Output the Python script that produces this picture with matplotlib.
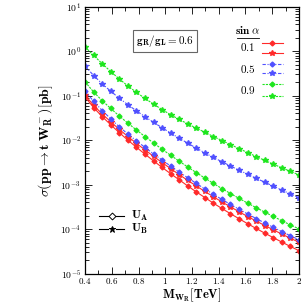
import matplotlib
matplotlib.use("Agg")
import matplotlib.pyplot as plt

plt.rcParams['mathtext.fontset'] = 'cm'
plt.rcParams['font.family'] = 'serif'
plt.rcParams['font.serif'] = ['DejaVu Serif']

# W_R mass [TeV]
mass = [0.4, 0.464, 0.528, 0.592, 0.656, 0.72, 0.784, 0.848, 0.912, 0.976,
        1.04, 1.104, 1.168, 1.232, 1.296, 1.36, 1.424, 1.488, 1.552, 1.616,
        1.68, 1.744, 1.808, 1.872, 1.936, 2.0]

# cross sections [pb], sin(alpha) = 0.1 / 0.5 / 0.9, models U_A and U_B
red_UA = [0.0935, 0.054, 0.0339, 0.0222, 0.01476, 0.01005, 0.00695, 0.00486, 0.00344, 0.00245,
          0.00177, 0.00129, 9.38e-4, 6.90e-4, 5.15e-4, 3.85e-4, 2.92e-4, 2.23e-4, 1.72e-4, 1.33e-4,
          1.04e-4, 8.17e-5, 6.47e-5, 5.14e-5, 4.10e-5, 3.30e-5]
red_UB = [0.103, 0.0606, 0.0388, 0.0259, 0.0175, 0.0121, 0.00852, 0.00606, 0.00434, 0.00315,
          0.0023, 0.00169, 0.00125, 9.37e-4, 7.06e-4, 5.36e-4, 4.10e-4, 3.18e-4, 2.47e-4, 1.93e-4,
          1.53e-4, 1.21e-4, 9.72e-5, 7.77e-5, 6.26e-5, 5.11e-5]
blue_UA = [0.129, 0.0744, 0.0464, 0.0302, 0.01995, 0.0138, 0.00969, 0.0069, 0.00494, 0.00358,
           0.00262, 0.00193, 0.00143, 0.00107, 8.04e-4, 6.10e-4, 4.66e-4, 3.61e-4, 2.81e-4, 2.20e-4,
           1.74e-4, 1.38e-4, 1.11e-4, 8.84e-5, 7.13e-5, 5.81e-5]
blue_UB = [0.464, 0.284, 0.185, 0.126, 0.088, 0.0628, 0.0457, 0.0338, 0.0252, 0.0191,
           0.0145, 0.0111, 0.00858, 0.00664, 0.0052, 0.0041, 0.00328, 0.00263, 0.00212, 0.00172,
           0.00139, 0.00114, 9.27e-4, 7.59e-4, 6.21e-4, 5.12e-4]
green_UA = [0.205, 0.121, 0.0774, 0.0516, 0.035, 0.0242, 0.0170, 0.0121, 0.00867, 0.00628,
            0.00459, 0.00338, 0.0025, 0.00187, 0.00141, 0.00107, 8.18e-4, 6.34e-4, 4.93e-4, 3.86e-4,
            3.05e-4, 2.42e-4, 1.94e-4, 1.55e-4, 1.25e-4, 1.02e-4]
green_UB = [1.25, 0.802, 0.525, 0.349, 0.238, 0.166, 0.119, 0.0871, 0.0648, 0.0489,
            0.0374, 0.0293, 0.0233, 0.0187, 0.0151, 0.0121, 0.00985, 0.00798, 0.00647, 0.00527,
            0.0043, 0.00352, 0.0029, 0.0024, 0.002, 0.00167]

sin_labels = ['0.1', '0.5', '0.9']
colors = ['#ff2a2a', '#5050ff', '#1ee61e']
styles = ['-', (0, (3, 1.5, 1, 1.5)), (0, (2, 1))]
series = [(red_UA, red_UB), (blue_UA, blue_UB), (green_UA, green_UB)]
mk_A = 'D'
mk_B = '*'

fig = plt.figure(figsize=(3.05, 3.05), dpi=100)
ax = fig.add_axes([0.279, 0.1026, 0.701, 0.8754])

for (ya, yb), c, ls in zip(series, colors, styles):
    ax.plot(mass, ya, color=c, ls=ls, lw=0.8, marker=mk_A, ms=2.5)
    ax.plot(mass, yb, color=c, ls=ls, lw=0.8, marker=mk_B, ms=3.8)

ax.set_yscale('log')
ax.set_xlim(0.4, 2.0)
ax.set_ylim(1e-5, 10)

xt = [0.4, 0.6, 0.8, 1.0, 1.2, 1.4, 1.6, 1.8, 2.0]
xt_lab = ['$0.4$', '$0.6$', '$0.8$', '$1$', '$1.2$', '$1.4$', '$1.6$', '$1.8$', '$2$']
ax.set_xticks(xt)
ax.set_xticklabels(xt_lab)
ax.set_xticks([0.5, 0.7, 0.9, 1.1, 1.3, 1.5, 1.7, 1.9], minor=True)
yt = [1e-5, 1e-4, 1e-3, 1e-2, 1e-1, 1, 10]
ax.set_yticks(yt)
ax.set_yticklabels([r'$10^{%d}$' % k for k in range(-5, 2)])
ax.tick_params(which='both', direction='in', top=True, right=True, labelsize=7, width=0.6)
ax.tick_params(which='major', length=5, pad=3)
ax.tick_params(axis='x', which='major', pad=2, labelsize=6.5)
ax.tick_params(which='minor', length=3)
for s in ax.spines.values():
    s.set_linewidth(0.9)

ax.set_xlabel(r'$\mathbf{M_{W_R}[TeV]}$', fontsize=9)
ax.xaxis.set_label_coords(0.5, -0.047)
ax.set_ylabel(r'$\sigma(\mathbf{pp}\rightarrow\mathbf{t\ W_R^-})[\mathbf{pb}]$', fontsize=10, labelpad=4)

# g_R/g_L box
ax.text(0.374, 0.872, r'$\mathbf{g_R/g_L = 0.6}$', transform=ax.transAxes, fontsize=8,
        ha='center', va='center',
        bbox=dict(boxstyle='square,pad=0.3', fc='white', ec='#666666', lw=0.8))

# sin alpha legend
ax.text(0.762, 0.911, r'$\mathbf{sin}\ \alpha$', transform=ax.transAxes, fontsize=8,
        ha='center', va='center')
ax.plot([0.712, 0.812], [0.883, 0.883], transform=ax.transAxes, color='k', lw=0.6)
row_y = [(0.864, 0.825), (0.784, 0.750), (0.709, 0.667)]
lab_y = [0.848, 0.768, 0.689]
for lab, c, ls, (y1, y2), yl in zip(sin_labels, colors, styles, row_y, lab_y):
    ax.text(0.762, yl, r'$\mathbf{%s}$' % lab, transform=ax.transAxes, fontsize=8,
            ha='center', va='center')
    ax.plot([0.826, 0.875, 0.924], [y1, y1, y1], transform=ax.transAxes, color=c, ls=ls,
            lw=0.8, marker=mk_A, ms=2.5, markevery=[1])
    ax.plot([0.826, 0.875, 0.924], [y2, y2, y2], transform=ax.transAxes, color=c, ls=ls,
            lw=0.8, marker=mk_B, ms=3.8, markevery=[1])

# model legend
for y, mk, name in [(0.218, 'D', 'A'), (0.168, '*', 'B')]:
    ax.plot([0.065, 0.105], [y, y], transform=ax.transAxes, color='k', lw=0.8)
    ax.plot([0.145, 0.182], [y, y], transform=ax.transAxes, color='k', lw=0.8)
    ax.plot([0.124], [y], transform=ax.transAxes, color='k', marker=mk,
            ms=3.5 if mk == 'D' else 5, mfc='white' if mk == 'D' else 'k', mew=0.7)
    ax.text(0.215, y, r'$\mathbf{U_%s}$' % name, transform=ax.transAxes, fontsize=8.5,
            ha='left', va='center')

fig.savefig('out.png', dpi=100)
